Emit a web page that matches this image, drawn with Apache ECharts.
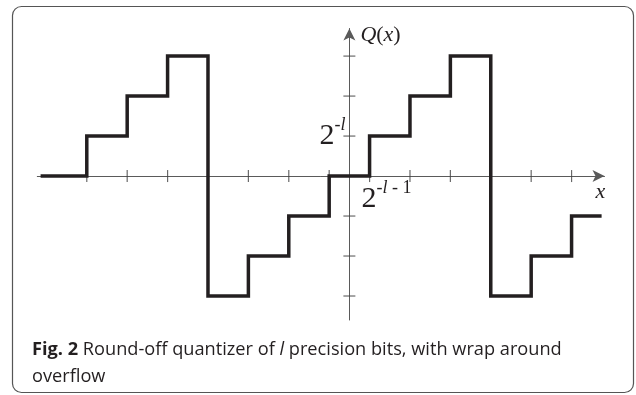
<!DOCTYPE html>
<html lang="en">
<head>
  <meta charset="utf-8">
  <script type="text/javascript" src="https://cdn.jsdelivr.net/npm/echarts@6/dist/echarts.min.js"></script>
</head>
<body style="margin: 0">
  <div id="container" style="width: 636px; height: 395px"></div>
  <script type="text/javascript">
    // x in units of 2^(-l-1), y in units of 2^(-l)
    var stepEdges = [-15.2, -13, -11, -9, -7, -5, -3, -1, 1, 3, 5, 7, 9, 11, 12.4];
    var stepLevels = [0, 1, 2, 3, -3, -2, -1, 0, 1, 2, 3, -3, -2, -1];
    var xTicks = [-13, -11, -9, -7, -5, -3, -1, 1, 3, 5, 7, 9, 11];
    var yTicks = [-3, -2, -1, 1, 2, 3];

    var axisColor = '#5a5a5a';
    var ink = '#231f20';
    var serif = '"Liberation Serif", "DejaVu Serif", serif';

    var stepData = stepEdges.map(function(x, i) {
      return [x, stepLevels[Math.min(i, stepLevels.length - 1)]];
    });

    var dom = document.getElementById('container');
    var myChart = echarts.init(dom);

    var option = {
      animation: false,
      backgroundColor: '#fff',
      title: {
        left: 27,
        top: 331,
        text: '{b|Fig. 2} Round-off quantizer of {i|l} precision bits, with wrap around\noverflow',
        textStyle: {
          fontFamily: 'Open Sans',
          fontSize: 18.2,
          fontWeight: 'normal',
          lineHeight: 27,
          color: ink,
          rich: {
            b: { fontFamily: 'Open Sans', fontSize: 18.2, fontWeight: 'bold', color: ink, lineHeight: 27 },
            i: { fontFamily: 'Open Sans', fontSize: 18.2, fontStyle: 'italic', color: ink, lineHeight: 27 }
          }
        }
      },
      grid: {
        left: 37.3,
        right: 31.5,
        top: 28.5,
        bottom: 75
      },
      xAxis: {
        type: 'value',
        min: -15.45,
        max: 12.63,
        axisLine: {
          onZero: true,
          symbol: ['none', 'arrow'],
          symbolSize: [9, 12],
          lineStyle: { color: axisColor, width: 1 }
        },
        axisTick: { show: false },
        axisLabel: { show: false },
        splitLine: { show: false }
      },
      yAxis: {
        type: 'value',
        min: -3.6,
        max: 3.69,
        axisLine: {
          onZero: true,
          symbol: ['none', 'arrow'],
          symbolSize: [9, 12],
          lineStyle: { color: axisColor, width: 1 }
        },
        axisTick: { show: false },
        axisLabel: { show: false },
        splitLine: { show: false }
      },
      series: [
        {
          name: 'x ticks',
          type: 'scatter',
          silent: true,
          symbol: 'rect',
          symbolSize: [1.2, 12],
          itemStyle: { color: '#444' },
          data: xTicks.map(function(v) { return [v, 0]; }),
          z: 1
        },
        {
          name: 'y ticks',
          type: 'scatter',
          silent: true,
          symbol: 'rect',
          symbolSize: [12, 1.2],
          itemStyle: { color: '#444' },
          data: yTicks.map(function(v) { return [0, v]; }),
          z: 1
        },
        {
          name: 'Q(x)',
          type: 'line',
          step: 'end',
          showSymbol: false,
          silent: true,
          lineStyle: { color: ink, width: 3.5, join: 'miter', cap: 'square' },
          data: stepData,
          z: 3
        }
      ]
    };
    myChart.setOption(option);

    // text annotations anchored through the chart's own scales
    var origin = myChart.convertToPixel({ gridIndex: 0 }, [0, 0]);
    var lvl1 = myChart.convertToPixel({ gridIndex: 0 }, [0, 1]);
    var half = myChart.convertToPixel({ gridIndex: 0 }, [1, 0]);
    var xEnd = myChart.convertToPixel({ gridIndex: 0 }, [12.63, 0]);
    var yEnd = myChart.convertToPixel({ gridIndex: 0 }, [0, 3.69]);

    var mathRich = {
      n: { font: '30px ' + serif, fill: ink, verticalAlign: 'bottom', lineHeight: 35 },
      s: { font: '18px ' + serif, fill: ink, verticalAlign: 'top', lineHeight: 18 },
      si: { font: 'italic 18px ' + serif, fill: ink, verticalAlign: 'top', lineHeight: 18 },
      i: { font: 'italic 22px ' + serif, fill: ink },
      r: { font: '22px ' + serif, fill: ink }
    };

    myChart.setOption({
      graphic: [
        {
          type: 'rect',
          silent: true,
          shape: { x: 12.5, y: 6.5, width: 621, height: 386, r: 9 },
          style: { fill: 'none', stroke: '#555', lineWidth: 1.2 }
        },
        {
          type: 'text',
          silent: true,
          x: lvl1[0] - 4,
          y: lvl1[1] - 2,
          style: {
            text: '{n|2}{s|-}{si|l}',
            font: '30px ' + serif,
            align: 'right',
            verticalAlign: 'middle',
            rich: mathRich
          }
        },
        {
          type: 'text',
          silent: true,
          x: half[0] - 8,
          y: half[1] + 3,
          style: {
            text: '{n|2}{si|-l}{s| - 1}',
            font: '30px ' + serif,
            align: 'left',
            verticalAlign: 'top',
            rich: mathRich
          }
        },
        {
          type: 'text',
          silent: true,
          x: yEnd[0] + 11,
          y: yEnd[1] + 7,
          style: {
            text: '{i|Q}{r|(}{i|x}{r|)}',
            font: '22px ' + serif,
            align: 'left',
            verticalAlign: 'middle',
            rich: mathRich
          }
        },
        {
          type: 'text',
          silent: true,
          x: xEnd[0] - 9,
          y: origin[1] + 16,
          style: {
            text: '{i|x}',
            font: 'italic 22px ' + serif,
            align: 'left',
            verticalAlign: 'middle',
            rich: mathRich
          }
        }
      ]
    });
  </script>
</body>
</html>
